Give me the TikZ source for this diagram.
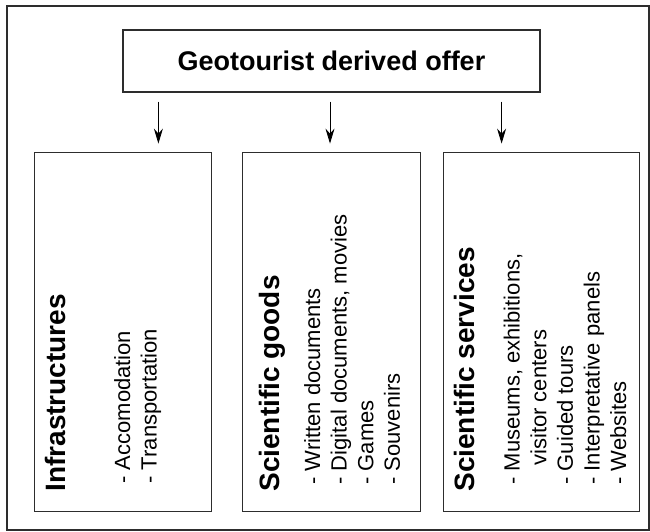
\documentclass[tikz,border=0pt]{standalone}
\usepackage{fontspec}
\setmainfont{Liberation Sans}
\usetikzlibrary{arrows.meta,positioning}
\definecolor{boxink}{RGB}{45,45,45}
\tikzset{
  offerbox/.style={draw=boxink,line width=1.2pt,minimum width=417pt,
    minimum height=62pt,inner sep=0pt,
    font=\fontsize{27}{32}\selectfont\bfseries},
  groupbox/.style={draw=boxink,line width=1.2pt,minimum height=359pt,
    inner sep=0pt},
  grouphead/.style={rotate=90,anchor=base west,inner sep=0pt,
    font=\fontsize{28}{33}\selectfont\bfseries},
  % base west of a multi-line node is on its last line
  grouplist/.style={rotate=90,anchor=base west,inner sep=0pt,align=left,
    font=\fontsize{22}{26.6}\selectfont},
  offerflow/.style={-{Stealth[length=15pt,width=9pt,inset=5pt]},
    line width=0.9pt,draw=black,shorten >=8pt},
  frameline/.style={draw=boxink,line width=1.4pt}
}

\begin{document}
\begin{tikzpicture}[x=1pt,y=-1pt]
  \useasboundingbox (0,0) rectangle (650,532);
  \draw[frameline] (7,6) rectangle (649,530);
  % top box
  \node[offerbox] (offer) at (331.5,61) {Geotourist derived offer};
  % the three groups
  \node[groupbox,minimum width=178pt,below=59pt of offer] (goods) {};
  \node[groupbox,minimum width=177pt,left=30pt of goods] (infra) {};
  \node[groupbox,minimum width=196pt,right=22pt of goods] (services) {};
  \node[grouphead] (infrahead) at ([xshift=32pt,yshift=20pt]infra.south west)
    {Infrastructures};
  \node[grouplist] (infralist) at ([xshift=123pt,yshift=28pt]infra.south west)
    {- Accomodation\\- Transportation};
  \node[grouphead] (goodshead) at ([xshift=38pt,yshift=20pt]goods.south west)
    {Scientific goods};
  \node[grouplist] (goodslist) at ([xshift=158pt,yshift=27pt]goods.south west)
    {- Written documents\\- Digital documents, movies\\- Games\\- Souvenirs};
  \node[grouphead] (serviceshead) at ([xshift=31pt,yshift=20pt]services.south west)
    {Scientific services};
  \node[grouplist] (serviceslist) at ([xshift=183pt,yshift=27pt]services.south west)
    {- Museums, exhibitions,\\\hspace*{19pt}visitor centers\\- Guided tours\\
     - Interpretative panels\\- Websites};
  % arrows
  \coordinate (infratail) at ([xshift=36pt,yshift=-9pt]offer.south west);
  \coordinate (goodstail) at ([xshift=-1.5pt,yshift=-9pt]offer.south);
  \coordinate (servicestail) at ([xshift=-39pt,yshift=-9pt]offer.south east);
  \draw[offerflow] (infratail) -- (infratail |- infra.north);
  \draw[offerflow] (goodstail) -- (goodstail |- goods.north);
  \draw[offerflow] (servicestail) -- (servicestail |- services.north);
\end{tikzpicture}
\end{document}
